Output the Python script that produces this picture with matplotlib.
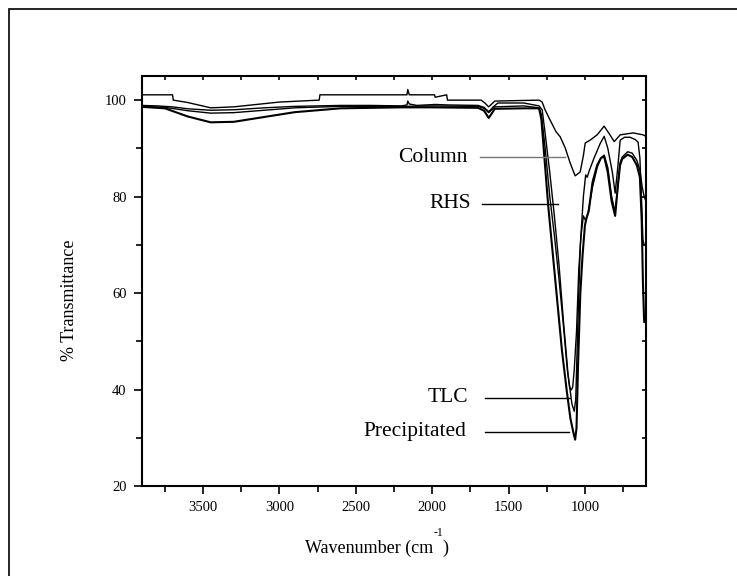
import matplotlib
matplotlib.use("Agg")
import matplotlib.pyplot as plt
from matplotlib.patches import Rectangle
from matplotlib.ticker import MultipleLocator

plt.rcParams['font.family'] = ['Liberation Serif', 'DejaVu Serif']

# FTIR spectra (wavenumber cm^-1, % transmittance)
col_wn = [3900, 3700, 3695, 3600, 3450, 3300, 3000, 2740, 2735, 2165, 2160, 2150,
          1985, 1980, 1905, 1900, 1680, 1655, 1630, 1590, 1300, 1280, 1261, 1230,
          1190, 1162, 1129, 1097, 1064, 1031, 1010, 998, 966, 920, 874, 840, 808,
          769, 684, 619, 600]
col_t = [101.1, 101.1, 100.0, 99.5, 98.4, 98.6, 99.6, 100.0, 101.1, 101.1, 102.2, 101.1,
         101.1, 100.6, 101.1, 100.0, 100.0, 99.4, 98.6, 99.8, 100.0, 99.6, 98.0, 96.0,
         93.5, 92.4, 90.1, 87.0, 84.3, 85.1, 88.5, 91.1, 91.7, 92.8, 94.6, 93.0, 91.4,
         92.8, 93.2, 92.8, 92.5]

rhs_wn = [3900, 3800, 3700, 3600, 3450, 3300, 3100, 2900, 2600, 2400, 2200, 2165,
          2160, 2150, 2100, 1980, 1900, 1700, 1660, 1630, 1600, 1570, 1400, 1300,
          1280, 1260, 1230, 1200, 1170, 1140, 1110, 1085, 1070, 1060, 1045, 1030,
          1010, 995, 985, 970, 940, 900, 874, 850, 820, 802, 785, 769, 740, 704,
          670, 652, 640, 630, 620, 612, 600]
rhs_t = [98.9, 98.8, 98.6, 98.2, 97.9, 98.0, 98.4, 98.7, 98.9, 98.9, 98.8, 99.0,
         99.8, 99.2, 98.9, 99.1, 99.0, 98.9, 98.5, 97.6, 98.6, 99.4, 99.4, 98.8,
         98.0, 93.0, 85.0, 76.0, 66.0, 54.0, 43.0, 37.0, 35.5, 38.0, 55.0, 70.0,
         80.0, 84.5, 84.0, 85.5, 88.0, 91.0, 92.5, 90.0, 85.0, 80.7, 86.0, 91.7,
         92.3, 92.3, 91.8, 91.3, 88.0, 80.0, 71.0, 70.0, 70.0]

tlc_wn = [3900, 3750, 3600, 3450, 3300, 3100, 2900, 2600, 2200, 2000, 1700, 1660,
          1630, 1590, 1400, 1300, 1285, 1260, 1230, 1200, 1170, 1140, 1115, 1100,
          1090, 1080, 1070, 1055, 1040, 1025, 1010, 995, 980, 950, 920, 895, 874,
          850, 825, 802, 785, 770, 756, 720, 690, 660, 640, 625, 612, 600]
tlc_t = [98.7, 98.5, 97.8, 97.3, 97.4, 97.9, 98.4, 98.7, 98.7, 98.8, 98.7, 98.3,
         97.4, 98.6, 98.8, 98.4, 97.0, 90.0, 80.0, 72.0, 63.0, 53.0, 44.0, 40.5,
         39.9, 40.5, 44.0, 52.0, 65.0, 72.0, 76.0, 75.0, 76.5, 82.0, 86.0, 88.0, 88.6,
         86.0, 80.0, 76.8, 82.0, 87.0, 88.2, 89.3, 89.0, 87.5, 85.5, 82.0, 80.0, 79.0]

pre_wn = [3900, 3750, 3600, 3450, 3300, 3100, 2900, 2600, 2200, 2000, 1700, 1660,
          1630, 1590, 1400, 1300, 1285, 1265, 1240, 1210, 1180, 1150, 1120, 1095,
          1075, 1064, 1055, 1045, 1030, 1015, 1000, 990, 975, 950, 920, 895, 874,
          850, 825, 802, 785, 770, 756, 720, 690, 660, 640, 628, 620, 612, 600]
pre_t = [98.6, 98.3, 96.6, 95.4, 95.5, 96.5, 97.5, 98.3, 98.5, 98.5, 98.4, 97.8,
         96.3, 98.2, 98.3, 98.3, 96.0, 88.0, 78.0, 68.0, 58.0, 48.0, 40.0, 34.0,
         31.0, 29.6, 32.0, 45.0, 60.0, 68.0, 74.0, 75.5, 77.0, 83.0, 86.5, 88.0, 88.3,
         85.0, 79.0, 76.0, 82.0, 86.5, 87.8, 88.7, 88.2, 86.5, 84.0, 75.0, 62.0, 54.0, 54.0]

labels = ["Column", "RHS", "TLC", "Precipitated"]
label_y = [88.2, 78.5, 38.3, 31.2]

fig = plt.figure(figsize=(7.37, 5.76), dpi=100)
W, H = 737, 576
ax = fig.add_axes([142 / W, 1 - 486 / H, 504 / W, 410 / H])

# outer frame
fig.patches.append(Rectangle((9 / W, -0.1), 1.2, 1 - 9 / H + 0.1, transform=fig.transFigure,
                             fill=False, edgecolor='black', linewidth=1.2))

ax.plot(col_wn, col_t, color='black', lw=1.0)
ax.plot(rhs_wn, rhs_t, color='black', lw=1.0)
ax.plot(tlc_wn, tlc_t, color='black', lw=1.0)
ax.plot(pre_wn, pre_t, color='black', lw=1.5)

# label leader lines
line_x = [(1686, 1129), (1673, 1175), (1653, 1097), (1653, 1103)]
line_c = ['#777777', 'black', 'black', 'black']
text_x = [1771, 1745, 1765, 1778]
for name, y, (x0, x1), c, tx in zip(labels, label_y, line_x, line_c, text_x):
    ax.plot([x0, x1], [y, y], color=c, lw=1.0)
    ax.text(tx, y, name, ha='right', va='center', fontsize=15.5)

ax.set_xlim(3900, 600)
ax.set_ylim(20, 105)
ax.xaxis.set_major_locator(MultipleLocator(500))
ax.xaxis.set_minor_locator(MultipleLocator(250))
ax.yaxis.set_major_locator(MultipleLocator(20))
ax.yaxis.set_minor_locator(MultipleLocator(10))
ax.set_xticks([3500, 3000, 2500, 2000, 1500, 1000])

for s in ax.spines.values():
    s.set_linewidth(1.5)
ax.tick_params(axis='both', which='major', direction='out', length=6, width=1.2,
               labelsize=10.5, pad=5)
ax.tick_params(axis='both', which='minor', direction='out', length=4, width=1.2)
ax.tick_params(top=True, right=True, which='both')
ax.xaxis.set_tick_params(which='both', top=True, labeltop=False)
# mirrored ticks on top/right point inwards and are short
for t in ax.xaxis.get_ticklines(minor=False)[1::2] + ax.xaxis.get_ticklines(minor=True)[1::2]:
    t.set_markersize(3)
    t.set_marker(3)
for t in ax.yaxis.get_ticklines(minor=False)[1::2] + ax.yaxis.get_ticklines(minor=True)[1::2]:
    t.set_markersize(3)
    t.set_marker(0)

fig.text(69 / W, 1 - 300 / H, "% Transmittance", rotation=90, ha='center', va='center',
         fontsize=13)
fig.text(433 / W, 1 - 548 / H, "Wavenumber (cm", ha='right', va='center', fontsize=13)
fig.text(434 / W, 1 - 533 / H, "-1", ha='left', va='center', fontsize=8.5)
fig.text(442 / W, 1 - 548 / H, ")", ha='left', va='center', fontsize=13)

fig.savefig("out.png", dpi=100)
